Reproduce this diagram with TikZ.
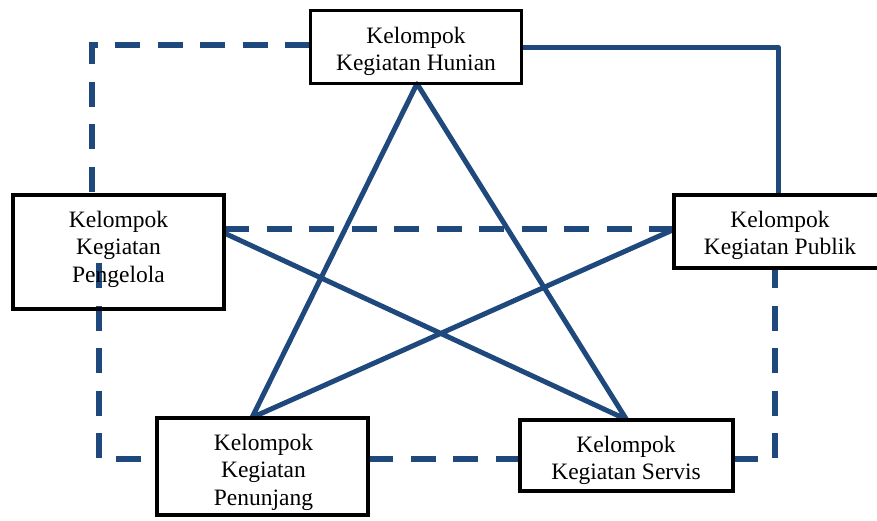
\documentclass[tikz,border=0pt]{standalone}
\usepackage{fontspec}
\setmainfont{Liberation Serif}
\definecolor{lineblue}{RGB}{31,73,125}
\begin{document}
\begin{tikzpicture}[x=1pt,y=-1pt,
  box/.style={draw=black, line width=3.8pt, minimum width=211pt, inner sep=0pt},
  txt/.style={align=center, inner sep=0pt, font=\fontsize{23.5}{27.5}\selectfont},
  sol/.style={draw=lineblue, line width=5pt, line join=round},
  dsh/.style={draw=lineblue, line width=5.5pt, dash pattern=on 25pt off 17.5pt}]
\useasboundingbox (0,0) rectangle (877,520);
\clip (0,0) rectangle (877,520);
% box shapes (positions only, drawn later on top)
\path
  node[minimum width=211pt, minimum height=73pt, inner sep=0pt] (hun) at (416,47) {}
  node[minimum width=211pt, minimum height=114.5pt, inner sep=0pt] (pgl) at (118.5,252) {}
  node[minimum width=211pt, minimum height=73.5pt, inner sep=0pt] (pub) at (779.5,231.5) {}
  node[minimum width=211pt, minimum height=97.5pt, inner sep=0pt] (pun) at (262.5,466.5) {}
  node[minimum width=213pt, minimum height=71.5pt, inner sep=0pt] (srv) at (626.5,455.5) {};
% connector corners
\coordinate (c1) at (92,45);
\coordinate (c2) at (778,47);
\coordinate (c5) at (400,229);
\coordinate (c0) at (99,263);
\coordinate (c3) at (99,459);
\coordinate (c4) at (775,459);
% dashed connectors
\draw[dsh] (hun.west |- c1) -- (c1) -- (c1 |- pgl.north);
\draw[dsh] (pgl.east |- c5) -- (pub.west |- c5);
\draw[dsh] (c0) -- (c3) -- (c3 -| pun.west);
\draw[dsh] (pun.east |- c3) -- (srv.west |- c3);
\draw[dsh] (srv.east |- c4) -- (c4) -- (c4 |- pub.south);
% solid connectors
\draw[sol] (hun.east |- c2) -- (c2) -- (c2 |- pub.north);
\draw[sol] ([yshift=19pt]pgl.east) -- (srv.north) -- ([xshift=1pt]hun.south)
  -- ([xshift=-10.5pt]pun.north) -- ([yshift=2pt]pub.west);
% boxes
\node[box, minimum height=73pt] (hunB) at (hun) {};
\node[box, minimum height=114.5pt] (pglB) at (pgl) {};
\node[box, minimum height=73.5pt] (pubB) at (pub) {};
\node[box, minimum height=97.5pt] (punB) at (pun) {};
\node[box, minimum height=71.5pt, minimum width=213pt] (srvB) at (srv) {};
% texts
\node[txt] (hunT) at (416,51.4) {Kelompok\\Kegiatan Hunian};
\node[txt] (pglT) at (118.5,249) {Kelompok\\Kegiatan\\Pengelola};
\node[txt] (pubT) at (780,235.4) {Kelompok\\Kegiatan Publik};
\node[txt] (punT) at (263.5,472) {Kelompok\\Kegiatan\\Penunjang};
\node[txt] (srvT) at (626,460.4) {Kelompok\\Kegiatan Servis};
\end{tikzpicture}
\end{document}
